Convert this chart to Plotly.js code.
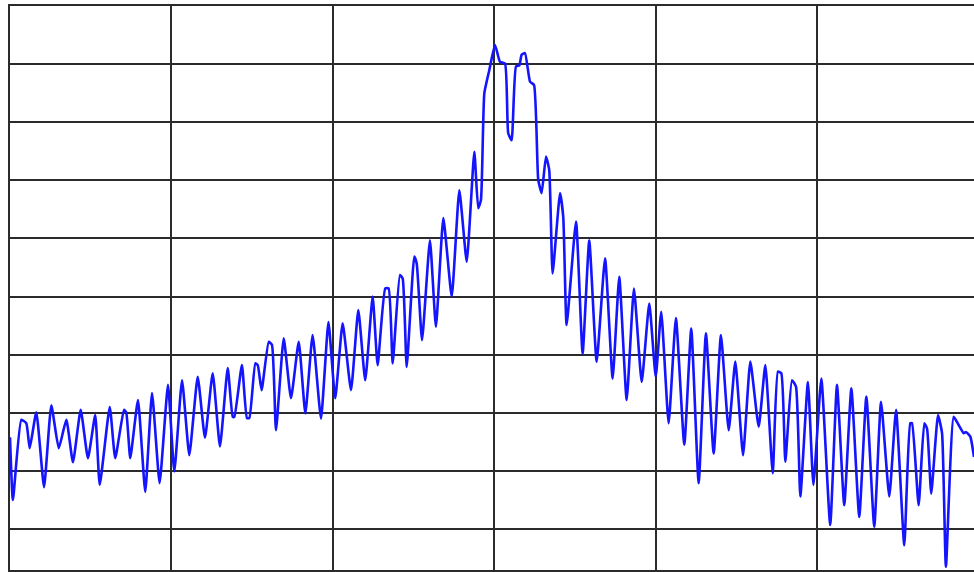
<!DOCTYPE html>
<html>
<head>
<meta charset="utf-8">
<script src="https://cdn.plot.ly/plotly-3.0.1.min.js"></script>
<style>
  html, body { margin: 0; padding: 0; background: #ffffff; overflow: hidden; }
  #chart { width: 974px; height: 572px; }
</style>
</head>
<body>
<div id="chart"></div>
<script>
// Frequency offset from centre (kHz, 100 kHz / division)
const freqOffset = [
  -300.0, -298.2, -293.0, -289.9, -287.8, -283.7, -278.9, -274.4, -269.8, -265.1,
  -261.0, -256.2, -251.7, -247.2, -244.4, -238.2, -234.8, -229.4, -228.0, -225.5,
  -220.7, -216.2, -212.0, -207.3, -202.1, -198.2, -193.4, -188.9, -183.7, -179.2,
  -174.4, -169.9, -165.1, -162.0, -161.0, -156.3, -153.2, -151.7, -148.0, -146.5,
  -144.1, -139.7, -137.7, -135.2, -130.4, -125.9, -121.1, -117.0, -112.5, -107.3,
  -102.7, -98.5, -93.9, -88.7, -84.2, -79.9, -75.3, -72.2, -67.5, -65.4,
  -62.9, -58.4, -56.7, -54.2, -49.5, -48.0, -44.7, -39.8, -36.1, -31.5,
  -26.3, -21.6, -17.0, -12.3, -9.9, -8.2, -6.1, -3.0, 0.5, 3.6,
  6.7, 8.7, 10.8, 13.5, 15.6, 17.0, 19.1, 22.2, 24.7, 27.3,
  29.4, 32.1, 34.1, 36.2, 40.8, 42.8, 44.9, 50.7, 54.8, 58.9,
  63.5, 68.7, 73.4, 77.5, 82.1, 86.6, 91.4, 96.1, 100.1, 103.5,
  108.1, 112.6, 117.8, 122.1, 126.7, 131.2, 136.0, 140.5, 145.3, 149.4,
  154.2, 158.7, 163.9, 168.0, 172.6, 175.8, 177.9, 180.4, 184.5, 187.0,
  189.7, 194.4, 197.8, 202.7, 208.2, 212.4, 216.9, 221.3, 226.2, 230.6,
  235.5, 239.7, 244.8, 249.0, 254.1, 257.8, 258.9, 263.0, 266.5, 268.2,
  270.8, 275.0, 277.5, 279.9, 284.7, 287.8, 290.9, 292.3, 295.0, 297.3
];

// Measured level (dB relative to reference level at top of screen)
const levelDb = [
  -74.2, -85.0, -71.2, -71.8, -76.1, -69.9, -82.8, -68.7, -76.1, -71.2,
  -78.5, -69.5, -77.8, -70.4, -82.4, -69.0, -77.8, -69.5, -69.9, -77.8,
  -67.8, -83.6, -66.6, -82.1, -65.2, -80.1, -64.4, -77.3, -63.8, -74.3,
  -63.2, -75.8, -62.3, -70.7, -70.7, -61.8, -70.9, -70.9, -61.5, -61.8,
  -66.1, -57.8, -58.3, -73.0, -57.2, -67.5, -57.8, -70.1, -56.6, -71.0,
  -54.4, -67.5, -54.6, -66.1, -52.3, -64.4, -50.0, -61.8, -48.6, -48.6,
  -61.5, -46.3, -46.9, -62.1, -43.1, -44.3, -57.5, -40.3, -55.2, -36.5,
  -50.0, -31.7, -44.0, -25.1, -34.8, -33.4, -15.0, -11.0, -6.7, -9.6,
  -9.9, -21.9, -23.1, -10.4, -10.2, -8.4, -8.1, -13.0, -13.6, -29.9,
  -32.2, -25.9, -28.2, -46.0, -32.2, -36.3, -54.9, -37.1, -59.8, -40.3,
  -61.2, -43.4, -64.1, -46.6, -67.8, -48.6, -64.7, -51.2, -63.8, -52.6,
  -71.8, -53.7, -75.5, -55.5, -82.1, -56.3, -77.0, -56.6, -73.0, -61.2,
  -77.3, -61.2, -72.4, -61.8, -80.4, -62.9, -63.2, -78.4, -64.4, -65.5,
  -84.4, -64.7, -82.4, -64.1, -89.3, -65.2, -85.9, -65.8, -87.9, -67.2,
  -89.6, -68.1, -84.4, -69.5, -92.8, -71.8, -71.8, -85.9, -71.8, -72.7,
  -83.9, -70.4, -73.5, -96.5, -70.7, -72.1, -73.5, -73.3, -74.1, -77.6
];

const gridColor = '#2b2b2b';

const trace = {
  type: 'scatter',
  mode: 'lines',
  x: freqOffset,
  y: levelDb,
  line: { color: '#1414ff', width: 2.6, shape: 'spline', smoothing: 0.45 },
  hoverinfo: 'skip'
};

const layout = {
  width: 974,
  height: 572,
  margin: { l: 10, r: 0, t: 6, b: 2, pad: 0 },
  paper_bgcolor: '#ffffff',
  plot_bgcolor: '#ffffff',
  showlegend: false,
  xaxis: {
    range: [-300, 297.3],
    tick0: 0,
    dtick: 100,
    showgrid: true,
    gridcolor: gridColor,
    gridwidth: 2,
    zeroline: true,
    zerolinecolor: gridColor,
    zerolinewidth: 2,
    showticklabels: false,
    ticks: '',
    showline: true,
    linecolor: gridColor,
    linewidth: 2,
    mirror: true,
    fixedrange: true
  },
  yaxis: {
    range: [-97.05, 0],
    tick0: 0,
    dtick: 10,
    showgrid: true,
    gridcolor: gridColor,
    gridwidth: 2,
    zeroline: false,
    showticklabels: false,
    ticks: '',
    showline: true,
    linecolor: gridColor,
    linewidth: 2,
    mirror: false,
    fixedrange: true
  }
};

Plotly.newPlot('chart', [trace], layout, { displayModeBar: false, staticPlot: true });
</script>
</body>
</html>
